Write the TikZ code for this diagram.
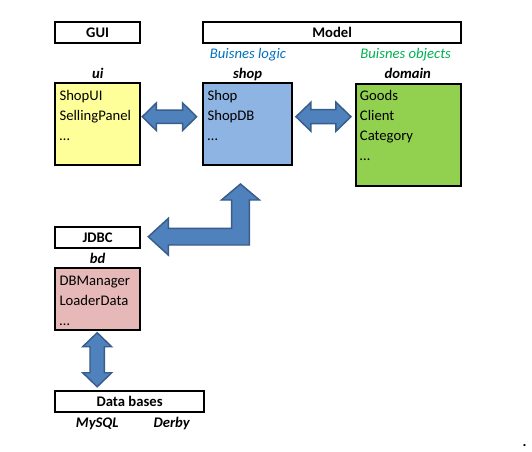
\documentclass[tikz,border=0pt]{standalone}
\usepackage{fontspec}
\setmainfont{Carlito}
\usetikzlibrary{calc}
\definecolor{uiyellow}{HTML}{FFFF99}
\definecolor{shopblue}{HTML}{8EB4E3}
\definecolor{domaingreen}{HTML}{92D050}
\definecolor{bdpink}{HTML}{E6B9B8}
\definecolor{arrowblue}{HTML}{4F81BD}
\definecolor{arrowedge}{HTML}{385D8A}
\definecolor{logicblue}{HTML}{0070C0}
\definecolor{objgreen}{HTML}{00B050}

\begin{document}
\begin{tikzpicture}[x=0.75pt,y=0.75pt,yscale=-1,
  font=\fontsize{11pt}{13pt}\selectfont,
  box/.style={draw=black,line width=1.5pt,anchor=north west,inner sep=0pt,outer sep=0pt},
  title/.style={font=\fontsize{11pt}{13pt}\selectfont\bfseries},
  pkg/.style={anchor=base,inner sep=0.75pt,font=\fontsize{11pt}{13pt}\selectfont\bfseries\itshape},
  layer/.style={anchor=base,inner sep=0.75pt,font=\fontsize{11pt}{13pt}\selectfont\itshape},
  cls/.style={anchor=base west,inner sep=0.75pt},
  blockarrow/.style={draw=arrowedge,fill=arrowblue,line width=1.1pt,line join=miter}]
\useasboundingbox (0,0) rectangle (532,451);

% Header boxes
\node (gui) [box,title,minimum width=63.5pt,minimum height=16.2pt] at (55.3,21.7) {GUI};
\node (model) [box,title,minimum width=193.3pt,minimum height=15.75pt] at (203.3,22.3) {Model};
\node (jdbc) [box,title,minimum width=63.5pt,minimum height=16.2pt] at (55.3,226.7) {JDBC};
\node (dbs) [box,title,minimum width=111.5pt,minimum height=15.75pt] at (55.3,390.7) {Data bases};

% Layer labels
\node (logic) [layer,text=logicblue] at (248,58.3) {Buisnes logic};
\node (objects) [layer,text=objgreen] at (405.7,58.3) {Buisnes objects};

% Package boxes
\node (ui) [box,fill=uiyellow,minimum width=63.5pt,minimum height=61.3pt] at (55.3,83.3) {};
\node (shop) [box,fill=shopblue,minimum width=66.5pt,minimum height=61.3pt] at (203.3,83.3) {};
\node (domain) [box,fill=domaingreen,minimum width=79pt,minimum height=76.5pt] at (355.7,83.7) {};
\node (bd) [box,fill=bdpink,minimum width=63.5pt,minimum height=46.3pt] at (55.3,268.3) {};

% Package names
\node (uilbl) [pkg] at (97.7,78.3) {ui};
\node (shoplbl) [pkg] at (247.7,78.3) {shop};
\node (domainlbl) [pkg] at (407.7,78.3) {domain};
\node (bdlbl) [pkg] at (97.7,263.3) {bd};
\node (mysql) [pkg] at (97.3,427.3) {MySQL};
\node (derby) [pkg] at (171.7,427.3) {Derby};

% Classes
\node (shopui) [cls] at (58.3,100.7) {ShopUI};
\node (selling) [cls] at (58.3,120.7) {SellingPanel};
\node (uidots) [cls] at (58.3,140.7) {…};
\node (shopcls) [cls] at (206.3,100.7) {Shop};
\node (shopdb) [cls] at (206.3,120.7) {ShopDB};
\node (shopdots) [cls] at (206.3,140.7) {…};
\node (goods) [cls] at (358.7,100.7) {Goods};
\node (client) [cls] at (358.7,120.7) {Client};
\node (category) [cls] at (358.7,140.7) {Category};
\node (domaindots) [cls] at (358.7,160.7) {…};
\node (dbmanager) [cls] at (58.3,285.3) {DBManager};
\node (loader) [cls] at (58.3,305.3) {LoaderData};
\node (bddots) [cls] at (58.3,325.3) {…};

\node (dot) [anchor=base,inner sep=0pt,font=\fontsize{11pt}{13pt}\selectfont\bfseries] at (524.5,446.5) {.};

% Block arrows
\draw [blockarrow] ($(ui.east)+(2.3,-7.45)$) -- ++(14,-13.7) -- ++(0,7) -- ++(26.4,0) -- ++(0,-7)
  -- ++(14,13.7) -- ++(-14,13.7) -- ++(0,-7) -- ++(-26.4,0) -- ++(0,7) -- cycle;
\draw [blockarrow] ($(shop.east)+(4,-7.45)$) -- ++(15,-14.5) -- ++(0,7.5) -- ++(25,0) -- ++(0,-7.5)
  -- ++(15,14.5) -- ++(-15,14.5) -- ++(0,-7.5) -- ++(-25,0) -- ++(0,7.5) -- cycle;
\draw [blockarrow] ($(jdbc.east)+(8.3,-0.8)$) -- ++(20,-18.3) -- ++(0,10) -- ++(63.4,0) -- ++(0,-28.4)
  -- ++(-10.2,0) -- ++(19,-16) -- ++(19,16) -- ++(-10.2,0) -- ++(0,45) -- ++(-81,0) -- ++(0,10) -- cycle;
\draw [blockarrow] ($(bd.south)+(-0.45,2.7)$) -- ++(14.5,14) -- ++(-7.3,0) -- ++(0,26) -- ++(7.3,0)
  -- ++(-14.5,14) -- ++(-14.5,-14) -- ++(7.3,0) -- ++(0,-26) -- ++(-7.3,0) -- cycle;

\end{tikzpicture}
\end{document}
